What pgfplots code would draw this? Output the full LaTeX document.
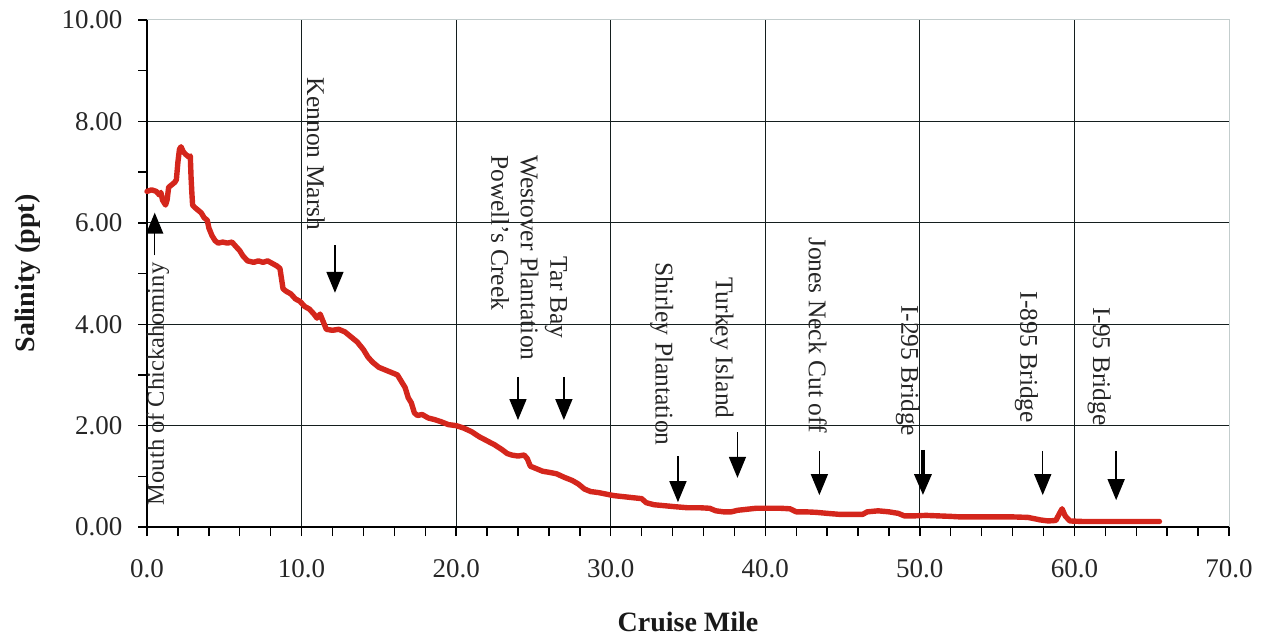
\documentclass[border=0pt]{standalone}
\usepackage{pgfplots}
\pgfplotsset{compat=1.18}
\usepackage{fontspec}
\setmainfont{Liberation Serif}
\usetikzlibrary{arrows.meta}

\definecolor{salred}{RGB}{212,38,28}
\definecolor{gridc}{RGB}{20,30,30}
\definecolor{frame}{RGB}{195,205,205}

% Salinity along the cruise track
\pgfplotstableread{
mile sal
0.0 6.62
0.3 6.65
0.6 6.62
0.8 6.55
0.9 6.60
1.0 6.45
1.2 6.35
1.3 6.45
1.4 6.70
1.6 6.75
1.8 6.80
1.9 6.85
2.0 7.20
2.1 7.45
2.2 7.50
2.35 7.40
2.5 7.35
2.7 7.30
2.8 7.32
2.85 6.90
2.9 6.60
2.95 6.35
3.1 6.30
3.3 6.25
3.5 6.20
3.7 6.10
3.9 6.05
4.0 5.90
4.2 5.75
4.4 5.65
4.6 5.60
4.9 5.62
5.2 5.60
5.5 5.62
5.7 5.55
6.0 5.45
6.2 5.35
6.5 5.25
6.9 5.22
7.2 5.25
7.5 5.22
7.8 5.25
8.1 5.20
8.4 5.15
8.6 5.10
8.7 4.90
8.8 4.70
9.0 4.65
9.3 4.60
9.6 4.50
9.9 4.45
10.2 4.35
10.5 4.30
10.8 4.20
11.0 4.12
11.2 4.20
11.4 4.05
11.6 3.90
12.0 3.88
12.4 3.90
12.8 3.85
13.2 3.75
13.6 3.65
14.0 3.50
14.3 3.35
14.6 3.25
15.0 3.15
15.4 3.10
15.8 3.05
16.2 3.00
16.5 2.85
16.7 2.75
16.9 2.55
17.1 2.45
17.3 2.25
17.5 2.20
17.8 2.22
18.2 2.15
18.6 2.12
19.0 2.08
19.5 2.02
20.0 2.00
20.5 1.95
21.0 1.88
21.5 1.78
22.0 1.70
22.5 1.62
23.0 1.52
23.3 1.45
23.6 1.42
24.0 1.40
24.4 1.42
24.6 1.35
24.8 1.20
25.2 1.15
25.6 1.10
26.0 1.08
26.5 1.05
27.0 0.98
27.5 0.92
27.9 0.85
28.3 0.75
28.7 0.70
29.2 0.68
29.7 0.65
30.2 0.62
30.8 0.60
31.4 0.58
32.0 0.56
32.3 0.48
32.8 0.44
33.5 0.42
34.2 0.40
35.0 0.38
35.8 0.38
36.4 0.37
36.8 0.32
37.3 0.30
37.8 0.30
38.2 0.33
38.8 0.35
39.4 0.37
40.2 0.37
41.0 0.37
41.6 0.36
42.0 0.30
42.6 0.30
43.3 0.29
44.0 0.27
44.8 0.25
45.5 0.25
46.3 0.25
46.6 0.30
47.3 0.32
48.0 0.30
48.6 0.27
49.0 0.22
49.6 0.22
50.4 0.23
51.2 0.22
52.0 0.21
52.6 0.20
53.2 0.20
54.0 0.20
55.0 0.20
56.0 0.20
57.0 0.19
57.8 0.14
58.3 0.12
58.8 0.13
59.0 0.25
59.2 0.36
59.4 0.22
59.7 0.12
60.5 0.11
61.5 0.11
62.5 0.11
63.5 0.11
64.5 0.11
65.5 0.11
}\saldata

\begin{document}
\begin{tikzpicture}
\begin{axis}[
  scale only axis,
  width=1082bp, height=507bp,
  xmin=0, xmax=70, ymin=0, ymax=10,
  axis lines=left,
  axis line style={-, black, line width=1.5bp},
  xtick={0,10,...,60}, extra x ticks={70},
  ytick={0,2,...,8}, extra y ticks={10},
  extra tick style={grid=none},
  minor xtick={2,4,6,8,12,14,16,18,22,24,26,28,32,34,36,38,42,44,46,48,52,54,56,58,62,64,66,68},
  minor ytick={1,3,5,7,9},
  tick align=outside,
  major tick length=9bp, minor tick length=9bp,
  every tick/.style={black, line width=1.4bp},
  xmajorgrids, ymajorgrids,
  major grid style={gridc, line width=1.1bp},
  xticklabel={\pgfmathprintnumber[fixed,fixed zerofill,precision=1]{\tick}},
  yticklabel={\pgfmathprintnumber[fixed,fixed zerofill,precision=2]{\tick}},
  /pgf/number format/assume math mode=true,
  tick label style={font=\fontsize{27bp}{30bp}\selectfont, text=black!85},
  xticklabel style={yshift=-20bp},
  yticklabel style={xshift=-12bp},
  xlabel={Cruise Mile},
  ylabel={Salinity (ppt)},
  label style={font=\fontsize{28bp}{32bp}\selectfont\bfseries, text=black!90},
  xlabel style={at={(axis description cs:0.5,-0.188)}, anchor=center},
  ylabel style={at={(axis description cs:-0.11,0.5)}, anchor=center},
  clip=false,
]
  % frame on the top and right
  \draw[frame, line width=1bp] (rel axis cs:0,1) -- (rel axis cs:1,1) -- (rel axis cs:1,0);

  \addplot[salred, line width=5.4bp, line join=round, line cap=round] table[x=mile, y=sal] {\saldata};

  % landmarks along the river
  \tikzset{lm/.style={font=\fontsize{25.5bp}{28bp}\selectfont, text=black!85, inner sep=0pt},
           pt/.style={black, line width=1.5bp, -{Triangle[width=17bp,length=21bp]}}}
  \draw[pt] (axis cs:0.5,5.36) -- (axis cs:0.5,6.2);
  \node[lm, rotate=90, anchor=west, font=\fontsize{24.5bp}{28bp}\selectfont] at (axis cs:0.71,0.43) {Mouth of Chickahominy};

  \draw[pt] (axis cs:12.16,5.56) -- (axis cs:12.16,4.62);
  \node[lm, rotate=-90, anchor=west] at (axis cs:10.93,8.86) {Kennon Marsh};

  \draw[pt] (axis cs:24.0,2.96) -- (axis cs:24.0,2.11);
  \node[lm, rotate=-90, anchor=west] at (axis cs:24.75,7.34) {Westover Plantation};
  \node[lm, rotate=-90, anchor=west] at (axis cs:22.85,7.34) {Powell's Creek};

  \draw[pt] (axis cs:26.97,2.96) -- (axis cs:26.97,2.11);
  \node[lm, rotate=-90, anchor=west] at (axis cs:26.46,5.33) {Tar Bay};

  \draw[pt] (axis cs:34.35,1.40) -- (axis cs:34.35,0.49);
  \node[lm, rotate=-90, anchor=west] at (axis cs:33.3,5.23) {Shirley Plantation};

  \draw[pt] (axis cs:38.2,1.87) -- (axis cs:38.2,0.97);
  \node[lm, rotate=-90, anchor=west] at (axis cs:37.2,4.93) {Turkey Island};

  \draw[pt] (axis cs:43.5,1.50) -- (axis cs:43.5,0.63);
  \node[lm, rotate=-90, anchor=west] at (axis cs:43.4,5.72) {Jones Neck Cut off};

  \draw[pt, line width=3.5bp] (axis cs:50.2,1.52) -- (axis cs:50.2,0.63);
  \node[lm, rotate=-90, anchor=west] at (axis cs:49.2,4.38) {I-295 Bridge};

  \draw[pt] (axis cs:57.95,1.50) -- (axis cs:57.95,0.63);
  \node[lm, rotate=-90, anchor=west] at (axis cs:56.9,4.64) {I-895 Bridge};

  \draw[pt] (axis cs:62.7,1.50) -- (axis cs:62.7,0.53);
  \node[lm, rotate=-90, anchor=west] at (axis cs:61.6,4.34) {I-95 Bridge};

  \coordinate (sw) at (rel axis cs:0,0);
  \coordinate (ne) at (rel axis cs:1,1);
\end{axis}
\path ([shift={(-147bp,-112bp)}]sw) rectangle ([shift={(32bp,20bp)}]ne);
\end{tikzpicture}
\end{document}
